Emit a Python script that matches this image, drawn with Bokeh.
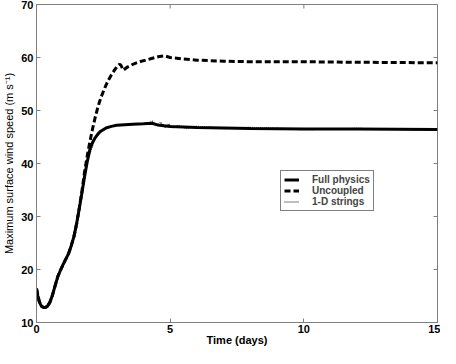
import math
from bokeh.plotting import figure
from bokeh.models import FixedTicker, Legend, LegendItem, Range1d
from bokeh.embed import file_html
from bokeh.resources import INLINE

# Full physics
t_full = [0, 0.05, 0.1, 0.15, 0.2, 0.3, 0.4, 0.5, 0.6, 0.7, 0.8, 0.9, 1.0, 1.1, 1.2,
          1.3, 1.4, 1.5, 1.6, 1.7, 1.8, 1.9, 2.0, 2.1, 2.2, 2.3, 2.4, 2.6, 2.8, 3.0,
          3.3, 3.6, 4.0, 4.3, 4.6, 5.0, 6.0, 7.0, 8.0, 10.0, 12.0, 15.0]
y_full = [16.4, 15.0, 14.0, 13.4, 13.0, 12.8, 13.0, 13.8, 15.2, 17.0, 18.7, 19.9, 21.0, 22.0, 23.0,
          24.5, 26.2, 28.6, 31.5, 34.5, 37.6, 40.4, 42.7, 44.0, 44.9, 45.6, 46.1, 46.7, 47.0, 47.2,
          47.3, 47.4, 47.5, 47.6, 47.2, 47.0, 46.8, 46.7, 46.6, 46.5, 46.5, 46.4]

# Uncoupled
t_unc = [0, 0.1, 0.2, 0.3, 0.4, 0.5, 0.6, 0.7, 0.8, 0.9, 1.0, 1.1, 1.2, 1.3, 1.4, 1.5, 1.6, 1.7,
         1.8, 1.9, 2.0, 2.1, 2.2, 2.3, 2.4, 2.5, 2.6, 2.7, 2.8, 2.9, 3.0, 3.1, 3.15, 3.25, 3.4,
         3.6, 3.8, 4.0, 4.3, 4.6, 4.8, 5.0, 5.5, 6.0, 7.0, 8.0, 10.0, 12.0, 15.0]
y_unc = [16.4, 14.0, 13.0, 12.8, 13.0, 13.8, 15.2, 17.0, 18.7, 19.9, 21.0, 22.0, 23.0, 24.5, 26.2, 28.6, 31.6, 34.8,
         38.5, 41.5, 44.2, 46.6, 48.8, 50.7, 52.3, 53.6, 54.8, 55.8, 56.7, 57.5, 58.2, 58.7, 58.6, 57.6, 58.2,
         58.7, 59.1, 59.4, 59.8, 60.2, 60.3, 60.0, 59.7, 59.5, 59.3, 59.2, 59.2, 59.1, 59.0]

# 1-D strings
t_str = [0, 0.2, 0.3, 0.5, 0.8, 1.0, 1.3, 1.6, 1.9, 2.2, 2.6, 3.0, 3.6, 4.2, 4.35, 4.5, 4.65, 4.8,
         4.95, 5.1, 5.3, 5.6, 6.0, 7.0, 8.0, 10.0, 12.0, 15.0]
y_str = [16.4, 13.0, 12.8, 13.8, 18.7, 21.0, 24.5, 31.5, 40.4, 44.9, 46.7, 47.2, 47.4, 47.6, 48.0, 47.0, 47.8, 46.8,
         47.5, 46.7, 47.2, 46.6, 47.0, 46.6, 46.8, 46.4, 46.6, 46.3]

x_ticks = [0, 5, 10, 15]
y_ticks = [10, 20, 30, 40, 50, 60, 70]
x_lim = (0, 15)
y_lim = (10, 70)

FONT = "Liberation Sans"
AXIS_COLOR = "#7f7f7f"

p = figure(width=440, height=348, output_backend="svg", toolbar_location=None,
           x_range=Range1d(*x_lim), y_range=Range1d(*y_lim),
           min_border_left=35, min_border_top=4, min_border_right=3, min_border_bottom=0)
p.xgrid.visible = False
p.ygrid.visible = False
p.outline_line_color = AXIS_COLOR
p.background_fill_color = "white"
p.border_fill_color = "white"

r_unc = p.line(t_unc, y_unc, line_color="black", line_width=3, line_dash="6 3")
r_str = p.line(t_str, y_str, line_color="#555555", line_width=1.5, line_dash="1 1")
r_full = p.line(t_full, y_full, line_color="black", line_width=3)

# mirrored inward ticks on the top and right edges of the box
p.ray(x=x_ticks, y=[y_lim[1]] * len(x_ticks), length=4, length_units="screen",
      angle=-math.pi / 2, line_color=AXIS_COLOR, line_width=1)
p.ray(x=[x_lim[1]] * len(y_ticks), y=y_ticks, length=4, length_units="screen",
      angle=math.pi, line_color=AXIS_COLOR, line_width=1)

for ax in (p.xaxis[0], p.yaxis[0]):
    ax.axis_line_color = AXIS_COLOR
    ax.major_tick_line_color = AXIS_COLOR
    ax.major_tick_in = 4
    ax.major_tick_out = 0
    ax.minor_tick_line_color = None
    ax.major_label_text_font = FONT
    ax.major_label_text_font_style = "bold"
    ax.major_label_text_font_size = "11px"
    ax.major_label_text_color = "black"
    ax.axis_label_text_font = FONT
    ax.axis_label_text_font_size = "11px"
    ax.axis_label_text_color = "black"

p.xaxis[0].ticker = FixedTicker(ticks=x_ticks)
p.yaxis[0].ticker = FixedTicker(ticks=y_ticks)
p.xaxis[0].axis_label = "Time (days)"
p.xaxis[0].axis_label_text_font_style = "bold"
p.xaxis[0].major_label_standoff = 2
p.xaxis[0].axis_label_standoff = -2
p.yaxis[0].axis_label = "Maximum surface wind speed (m s\u207b\u00b9)"
p.yaxis[0].axis_label_text_font_style = "normal"
p.yaxis[0].major_label_standoff = 3
p.yaxis[0].axis_label_standoff = 3

legend = Legend(items=[LegendItem(label="Full physics", renderers=[r_full]),
                       LegendItem(label="Uncoupled", renderers=[r_unc]),
                       LegendItem(label="1-D strings", renderers=[r_str])],
                location=(244, 111))
legend.label_text_font = FONT
legend.label_text_font_style = "bold"
legend.label_text_font_size = "10px"
legend.label_height = 9
legend.glyph_height = 9
legend.glyph_width = 15
legend.label_standoff = 13
legend.spacing = -1
legend.padding = 3
legend.margin = 0
legend.border_line_color = "black"
legend.border_line_width = 1
legend.background_fill_color = "white"
legend.background_fill_alpha = 1
p.add_layout(legend, "center")

open("out.html", "w").write(file_html(p, INLINE))
